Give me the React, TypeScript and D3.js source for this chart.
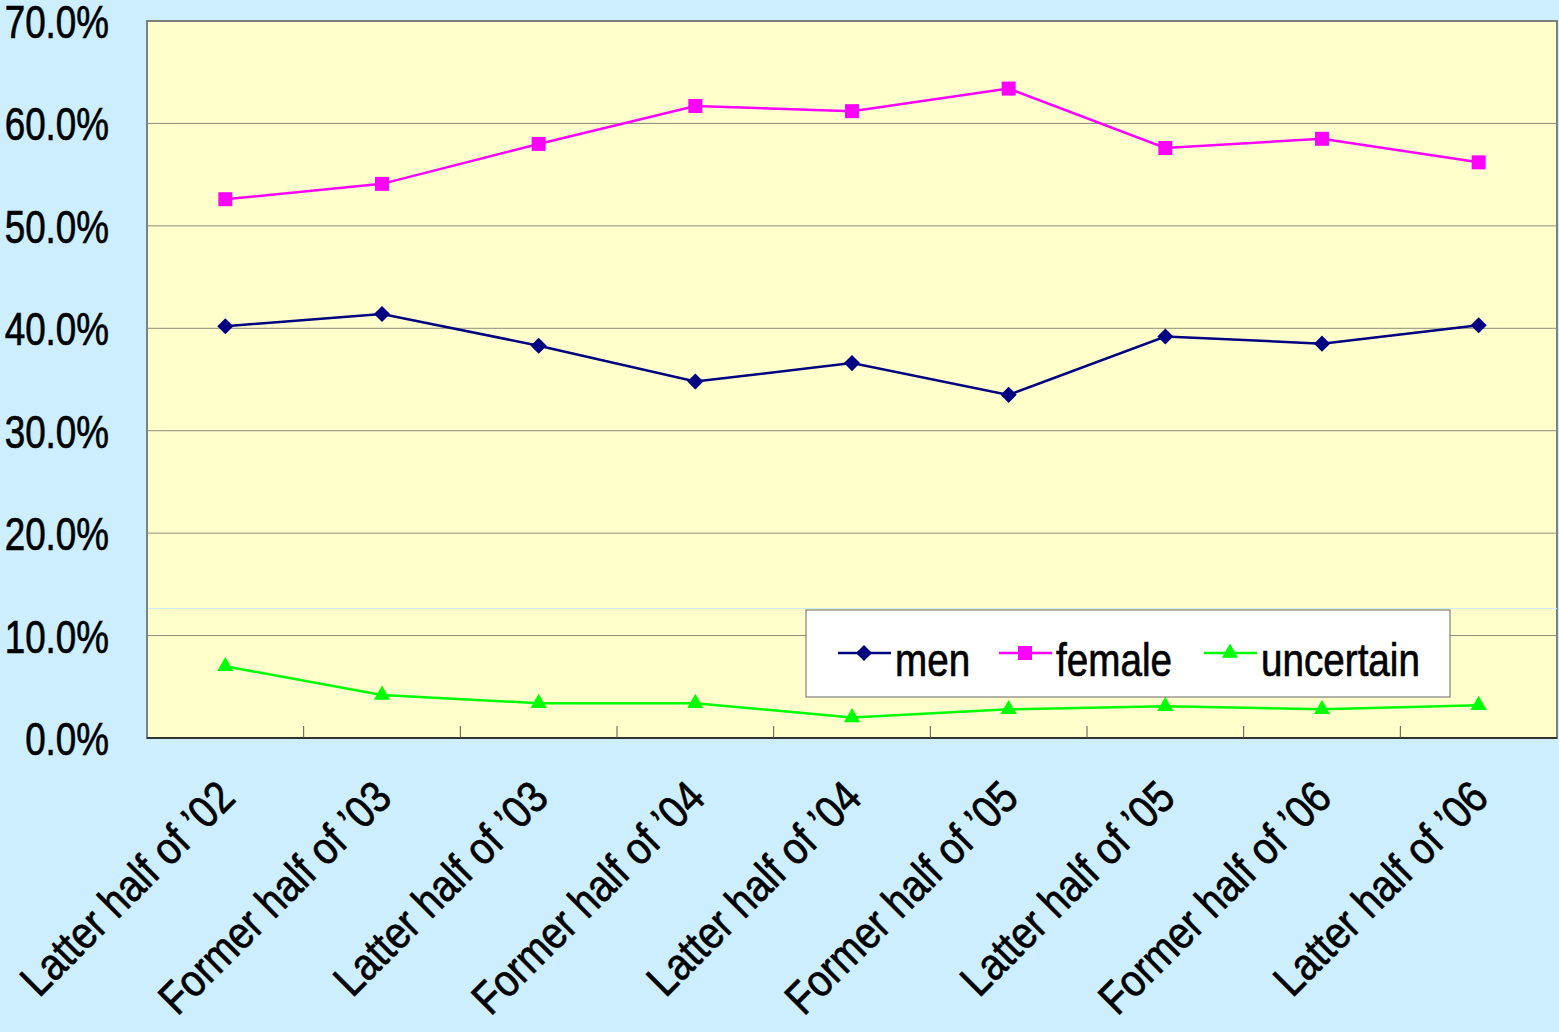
import React, { useEffect, useRef } from "react";
import * as d3 from "d3";

// periods on the x axis
const periods = [
  "Latter half of \u201902",
  "Former half of \u201903",
  "Latter half of \u201903",
  "Former half of \u201904",
  "Latter half of \u201904",
  "Former half of \u201905",
  "Latter half of \u201905",
  "Former half of \u201906",
  "Latter half of \u201906",
];

const men = [40.2, 41.4, 38.3, 34.8, 36.6, 33.5, 39.2, 38.5, 40.3];
const female = [52.6, 54.1, 58.0, 61.7, 61.2, 63.4, 57.6, 58.5, 56.2];
const uncertain = [7.0, 4.2, 3.4, 3.4, 2.0, 2.8, 3.1, 2.8, 3.2];

const yTicks = [0, 10, 20, 30, 40, 50, 60, 70];

const FONT = "'Liberation Sans', Arial, sans-serif";

export default function App() {
  const ref = useRef<SVGSVGElement>(null);

  useEffect(() => {
    const svg = d3.select(ref.current);
    svg.selectAll("*").remove();

    const width = 1559;
    const height = 1032;
    const left = 147, right = 1557, top = 21, bottom = 738;

    svg.append("rect").attr("width", width).attr("height", height).attr("fill", "#cceeff");

    const x = d3.scaleBand<string>().domain(periods).range([left, right]);
    const y = d3.scaleLinear().domain([0, 70]).range([bottom, top]);

    // plot area
    svg
      .append("rect")
      .attr("x", left)
      .attr("y", top)
      .attr("width", right - left)
      .attr("height", bottom - top)
      .attr("fill", "#ffffcc")
      .attr("stroke", "#808080")
      .attr("stroke-width", 2);

    // gridlines
    svg
      .append("g")
      .selectAll("line")
      .data(yTicks.filter((t) => t > 0 && t < 70))
      .enter()
      .append("line")
      .attr("x1", left)
      .attr("x2", right)
      .attr("y1", (d) => y(d))
      .attr("y2", (d) => y(d))
      .attr("stroke", "#8c8c7a")
      .attr("stroke-width", 1);

    // faint light line across plot
    svg
      .append("line")
      .attr("x1", left + 1)
      .attr("x2", right)
      .attr("y1", 608.5)
      .attr("y2", 608.5)
      .attr("stroke", "#cceeff")
      .attr("stroke-width", 1);

    // x axis line and ticks
    svg
      .append("line")
      .attr("x1", left)
      .attr("x2", right)
      .attr("y1", bottom)
      .attr("y2", bottom)
      .attr("stroke", "#333")
      .attr("stroke-width", 2);
    svg
      .append("g")
      .selectAll("line")
      .data(periods.slice(1))
      .enter()
      .append("line")
      .attr("x1", (d) => x(d)!)
      .attr("x2", (d) => x(d)!)
      .attr("y1", bottom - 12)
      .attr("y2", bottom)
      .attr("stroke", "#555")
      .attr("stroke-width", 1);

    const styleText = (sel: any, size: number) =>
      sel
        .attr("font-family", FONT)
        .attr("font-size", size)
        .attr("fill", "#000")
        .attr("stroke", "#000")
        .attr("stroke-width", 0.7);

    // y labels
    svg
      .append("g")
      .selectAll("text")
      .data(yTicks)
      .enter()
      .append("text")
      .attr("transform", (d) => `translate(109,${y(d) + 17}) scale(0.8,1)`)
      .attr("text-anchor", "end")
      .call(styleText, 46)
      .text((d) => d3.format(".1f")(d) + "%");

    // x labels
    svg
      .append("g")
      .selectAll("text")
      .data(periods)
      .enter()
      .append("text")
      .attr(
        "transform",
        (d) =>
          `translate(${x(d)! + x.bandwidth() / 2 + 12},${bottom + 62}) rotate(-45) scale(0.87,1)`
      )
      .attr("text-anchor", "end")
      .call(styleText, 45)
      .text((d) => d);

    const cx = (i: number) => x(periods[i])! + x.bandwidth() / 2;

    const series = [
      { name: "men", values: men, color: "#000080", shape: d3.symbolSquare, size: 130, rot: 45 },
      { name: "female", values: female, color: "#ff00ff", shape: d3.symbolSquare, size: 196, rot: 0 },
      { name: "uncertain", values: uncertain, color: "#00ff00", shape: d3.symbolTriangle, size: 115, rot: 0 },
    ];

    const line = d3
      .line<number>()
      .x((_, i) => cx(i))
      .y((d) => y(d));

    series.forEach((s) => {
      svg
        .append("path")
        .datum(s.values)
        .attr("d", line)
        .attr("fill", "none")
        .attr("stroke", s.color)
        .attr("stroke-width", 2.5);
      svg
        .append("g")
        .selectAll("path")
        .data(s.values)
        .enter()
        .append("path")
        .attr("transform", (d, i) => `translate(${cx(i)},${y(d)}) rotate(${s.rot})`)
        .attr("d", d3.symbol().type(s.shape).size(s.size)())
        .attr("fill", s.color);
    });

    // legend
    const lg = svg.append("g");
    lg.append("rect")
      .attr("x", 806)
      .attr("y", 610)
      .attr("width", 644)
      .attr("height", 87)
      .attr("fill", "#fff")
      .attr("stroke", "#666")
      .attr("stroke-width", 1);
    const legendX = [838, 999, 1204];
    series.forEach((s, i) => {
      const lx = legendX[i];
      lg.append("line")
        .attr("x1", lx)
        .attr("x2", lx + 53)
        .attr("y1", 653)
        .attr("y2", 653)
        .attr("stroke", s.color)
        .attr("stroke-width", 2.5);
      lg.append("path")
        .attr("transform", `translate(${lx + 26},653) rotate(${s.rot})`)
        .attr("d", d3.symbol().type(s.shape).size(s.size)())
        .attr("fill", s.color);
      lg.append("text")
        .attr("transform", `translate(${lx + 57},676) scale(0.84,1)`)
        .call(styleText, 46)
        .text(s.name);
    });
  }, []);

  return (
    <svg
      ref={ref}
      width={1559}
      height={1032}
      style={{ display: "block", position: "absolute", left: 0, top: 0 }}
    />
  );
}
